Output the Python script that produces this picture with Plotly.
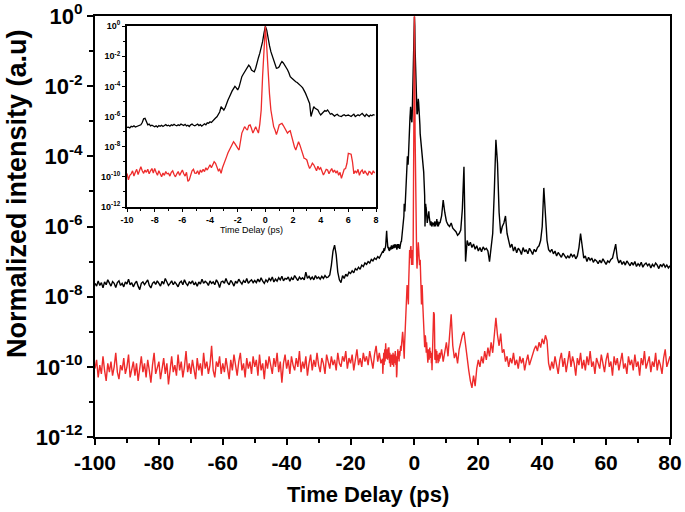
import numpy as np
import plotly.graph_objects as go

t_left = np.linspace(-100.0, -10.5, 180)
t_mid = np.linspace(-10.0, 7.9, 180)
t_right = np.linspace(8.0, 80.0, 145)

# log10(normalized intensity)
black_left = [
    -7.62, -7.70, -7.55, -7.68, -7.60, -7.75, -7.58, -7.66, -7.52, -7.64,
    -7.70, -7.57, -7.62, -7.74, -7.60, -7.55, -7.68, -7.62, -7.72, -7.58,
    -7.64, -7.50, -7.66, -7.60, -7.72, -7.62, -7.56, -7.70, -7.80, -7.62,
    -7.58, -7.66, -7.60, -7.52, -7.68, -7.75, -7.62, -7.58, -7.65, -7.55,
    -7.62, -7.70, -7.56, -7.64, -7.48, -7.60, -7.68, -7.62, -7.55, -7.66,
    -7.58, -7.64, -7.72, -7.60, -7.56, -7.66, -7.52, -7.62, -7.68, -7.58,
    -7.62, -7.55, -7.66, -7.60, -7.70, -7.58, -7.64, -7.50, -7.62, -7.56,
    -7.60, -7.68, -7.55, -7.62, -7.58, -7.66, -7.52, -7.60, -7.74, -7.58,
    -7.56, -7.62, -7.48, -7.60, -7.66, -7.54, -7.60, -7.70, -7.56, -7.62,
    -7.50, -7.58, -7.64, -7.54, -7.60, -7.48, -7.62, -7.56, -7.52, -7.60,
    -7.54, -7.60, -7.50, -7.58, -7.46, -7.56, -7.62, -7.52, -7.58, -7.48,
    -7.54, -7.44, -7.58, -7.50, -7.56, -7.46, -7.52, -7.42, -7.55, -7.48,
    -7.50, -7.44, -7.56, -7.46, -7.52, -7.40, -7.48, -7.54, -7.44, -7.50,
    -7.46, -7.52, -7.30, -7.48, -7.42, -7.50, -7.44, -7.52, -7.40, -7.48,
    -7.44, -7.50, -7.42, -7.48, -7.40, -7.46, -7.44, -7.38, -7.10, -6.70,
    -6.53, -6.80, -7.30, -7.52, -7.60, -7.40, -7.48, -7.36, -7.42, -7.30,
    -7.34, -7.26, -7.32, -7.20, -7.24, -7.16, -7.22, -7.10, -7.14, -7.04,
    -7.08, -7.00, -7.04, -6.94, -6.98, -6.90, -6.94, -6.86, -6.90, -6.80,
]
black_mid = [
    -6.72, -6.70, -6.75, -6.65, -6.68, -6.62, -6.70, -6.66, -6.60, -6.58,
    -6.55, -6.40, -6.15, -6.12, -6.30, -6.55, -6.50, -6.62, -6.58, -6.66,
    -6.68, -6.62, -6.70, -6.60, -6.65, -6.58, -6.66, -6.60, -6.54, -6.62,
    -6.58, -6.64, -6.55, -6.60, -6.52, -6.58, -6.62, -6.55, -6.60, -6.50,
    -6.55, -6.60, -6.52, -6.62, -6.58, -6.66, -6.55, -6.50, -6.58, -6.62,
    -6.56, -6.50, -6.60, -6.54, -6.64, -6.58, -6.48, -6.55, -6.42, -6.45,
    -6.35, -6.40, -6.28, -6.20, -6.10, -6.02, -5.90, -5.70, -5.35, -5.50,
    -5.57, -5.40, -5.10, -4.90, -4.70, -4.46, -4.30, -4.15, -4.00, -4.10,
    -4.24, -4.05, -3.70, -3.36, -3.20, -3.03, -2.90, -2.75, -2.59, -2.70,
    -2.92, -2.98, -3.03, -2.80, -2.36, -2.10, -1.80, -1.45, -1.04, -0.49,
    -0.02, -0.27, -0.93, -1.30, -1.70, -2.00, -2.25, -2.55, -2.80, -2.78,
    -2.70, -2.50, -2.36, -2.45, -2.60, -2.70, -2.90, -3.10, -3.36, -3.45,
    -3.55, -3.62, -3.69, -3.75, -3.82, -3.90, -4.00, -4.10, -4.24, -4.45,
    -4.68, -4.90, -5.13, -6.00, -5.60, -5.35, -5.45, -5.50, -5.57, -5.75,
    -5.90, -5.80, -5.70, -5.60, -5.65, -5.57, -5.70, -5.85, -5.80, -5.92,
    -5.97, -5.90, -5.85, -5.95, -6.00, -6.00, -5.92, -5.88, -5.95, -5.90,
    -5.90, -5.95, -6.00, -5.92, -5.85, -6.00, -5.95, -5.88, -5.95, -5.85,
    -5.79, -5.90, -6.00, -5.85, -5.95, -6.00, -5.90, -5.95, -5.88, -5.90,
]
black_right = [
    -5.90, -5.70, -5.25, -5.60, -5.85, -5.95, -6.00, -5.90, -6.05, -6.10,
    -6.15, -6.25, -6.20, -6.10, -5.50, -4.30, -7.00, -6.40, -6.55, -6.45,
    -6.60, -6.50, -6.65, -6.55, -6.70, -6.60, -6.72, -6.58, -6.66, -6.62,
    -6.70, -7.00, -6.60, -6.20, -5.00, -3.53, -4.20, -5.60, -6.20, -6.00,
    -5.90, -5.70, -6.20, -6.40, -6.60, -6.50, -6.70, -6.58, -6.75, -6.62,
    -6.68, -6.80, -6.60, -6.72, -6.66, -6.78, -6.62, -6.70, -6.80, -6.65,
    -6.72, -6.60, -6.55, -6.40, -6.00, -4.90, -5.60, -6.40, -6.66, -6.72,
    -6.65, -6.78, -6.70, -6.84, -6.74, -6.80, -6.88, -6.76, -6.82, -6.90,
    -6.84, -6.90, -6.78, -6.86, -6.80, -6.92, -6.84, -6.60, -6.20, -6.50,
    -6.90, -6.84, -7.00, -6.88, -6.96, -6.90, -7.02, -6.94, -6.98, -7.06,
    -6.96, -7.04, -6.92, -7.00, -7.08, -6.98, -7.02, -6.94, -6.90, -6.70,
    -6.50, -6.90, -7.04, -6.96, -7.08, -7.00, -7.10, -6.98, -7.06, -7.12,
    -7.02, -7.10, -7.00, -7.14, -7.06, -7.12, -7.02, -7.16, -7.08, -7.04,
    -7.12, -7.06, -7.18, -7.08, -7.14, -7.04, -7.10, -7.20, -7.08, -7.14,
    -7.06, -7.16, -7.10, -7.18, -7.12,
]

red_left = [
    -10.05, -9.80, -10.30, -9.95, -10.20, -9.70, -10.10, -10.40, -9.90, -10.15,
    -9.85, -10.25, -10.00, -9.60, -10.15, -10.35, -9.95, -10.10, -9.75, -10.20,
    -10.00, -9.65, -10.30, -10.05, -9.85, -10.25, -9.90, -10.40, -10.00, -9.70,
    -10.15, -9.90, -10.30, -9.80, -10.10, -10.45, -9.95, -9.60, -10.20, -10.00,
    -9.85, -10.35, -10.05, -9.75, -10.20, -9.90, -10.50, -10.00, -9.70, -10.15,
    -9.95, -10.25, -9.65, -10.10, -9.85, -10.30, -10.00, -9.55, -10.15, -9.90,
    -10.20, -9.80, -10.05, -10.35, -9.75, -10.10, -9.90, -10.25, -9.60, -10.05,
    -9.85, -10.20, -9.95, -9.40, -10.10, -10.30, -9.85, -10.00, -9.70, -10.20,
    -9.90, -10.15, -9.75, -10.05, -10.35, -9.80, -10.10, -9.65, -10.00, -10.25,
    -9.85, -9.60, -10.10, -9.90, -10.30, -9.75, -10.05, -9.85, -10.20, -9.70,
    -10.00, -9.80, -10.25, -9.65, -10.10, -9.90, -10.35, -9.80, -10.05, -9.70,
    -9.95, -10.20, -9.75, -10.00, -9.60, -10.15, -9.85, -10.45, -9.90, -9.65,
    -10.05, -9.80, -10.20, -9.70, -9.95, -10.10, -9.75, -10.00, -9.55, -10.15,
    -9.85, -10.05, -9.70, -10.25, -9.90, -9.65, -10.10, -9.80, -10.00, -9.60,
    -9.95, -10.15, -9.75, -9.90, -10.20, -9.65, -9.85, -10.05, -9.70, -9.95,
    -9.80, -10.10, -9.60, -9.90, -10.00, -9.70, -9.85, -9.55, -10.05, -9.75,
    -9.90, -9.65, -10.10, -9.80, -9.50, -9.95, -9.75, -10.00, -9.60, -9.85,
    -9.70, -9.95, -9.55, -9.80, -10.05, -9.65, -9.40, -9.85, -9.60, -9.90,
]
red_mid = [
    -9.77, -10.20, -9.90, -9.80, -9.60, -9.95, -9.70, -9.50, -9.85, -9.60,
    -9.33, -9.60, -9.77, -9.55, -9.70, -9.50, -9.80, -9.60, -9.45, -9.75,
    -9.44, -9.70, -9.90, -9.60, -9.85, -10.00, -9.75, -9.90, -9.65, -9.80,
    -9.77, -9.95, -9.70, -9.60, -9.85, -10.00, -9.80, -9.65, -9.90, -9.70,
    -9.55, -9.80, -9.95, -9.70, -10.30, -10.20, -9.90, -9.60, -9.50, -9.75,
    -9.77, -9.60, -9.85, -9.55, -9.70, -9.50, -9.65, -9.40, -9.55, -9.35,
    -9.20, -9.40, -9.15, -9.00, -9.10, -9.30, -9.60, -9.50, -9.77, -9.40,
    -9.10, -8.90, -8.66, -8.40, -8.20, -8.00, -7.85, -7.67, -7.80, -8.00,
    -8.10, -8.22, -7.60, -7.10, -6.90, -6.67, -6.80, -6.90, -6.60, -6.56,
    -6.80, -7.10, -6.90, -6.67, -6.90, -7.10, -6.50, -5.57, -3.36, -1.15,
    -0.01, -1.37, -3.36, -4.50, -5.57, -6.20, -6.67, -6.90, -7.20, -6.90,
    -6.56, -6.50, -6.45, -6.60, -6.78, -6.90, -7.10, -7.00, -6.95, -7.30,
    -7.78, -8.00, -8.22, -7.90, -7.67, -7.90, -8.20, -8.50, -8.77, -8.80,
    -8.88, -9.20, -9.44, -9.30, -9.10, -9.20, -9.40, -9.60, -9.30, -9.50,
    -9.40, -9.60, -9.88, -9.70, -9.50, -9.55, -9.80, -9.60, -9.45, -9.70,
    -9.55, -9.75, -9.60, -9.90, -9.70, -10.10, -9.80, -9.50, -9.45, -9.10,
    -8.44, -8.45, -8.50, -9.00, -9.80, -9.60, -9.75, -9.50, -9.90, -9.65,
    -9.55, -9.80, -9.60, -9.75, -9.90, -9.65, -9.70, -9.85, -9.60, -9.75,
]
red_right = [
    -9.75, -9.50, -9.85, -9.60, -9.30, -9.70, -9.20, -8.50, -9.40, -9.75,
    -9.60, -9.90, -9.50, -9.30, -9.10, -9.00, -9.40, -9.80, -10.10, -10.40,
    -10.60, -10.25, -10.55, -10.05, -9.80, -10.00, -9.70, -9.90, -9.55, -9.80,
    -9.45, -9.70, -9.30, -9.60, -9.15, -8.60, -9.10, -9.40, -9.05, -9.60,
    -9.50, -9.85, -9.70, -10.00, -9.75, -9.90, -9.60, -9.95, -9.80, -10.05,
    -9.70, -9.90, -9.75, -10.10, -9.85, -9.65, -9.95, -9.80, -9.60, -9.50,
    -9.40, -9.55, -9.30, -9.45, -9.20, -9.35, -9.10, -9.25, -9.90, -10.10,
    -9.85, -10.05, -9.70, -9.95, -10.20, -9.80, -9.60, -10.00, -9.75, -10.15,
    -9.85, -9.55, -10.00, -9.70, -9.90, -10.25, -9.75, -9.95, -9.60, -10.05,
    -9.80, -10.10, -9.70, -9.95, -9.55, -10.00, -9.85, -10.20, -9.75, -9.90,
    -10.05, -9.65, -9.90, -10.15, -9.80, -9.60, -10.00, -9.85, -10.25, -9.70,
    -9.95, -9.75, -10.10, -9.85, -9.60, -10.05, -9.90, -10.20, -9.70, -9.95,
    -9.80, -10.10, -9.65, -10.00, -9.85, -10.25, -9.75, -9.95, -9.55, -10.05,
    -9.90, -9.70, -10.15, -9.85, -10.00, -9.60, -10.10, -9.80, -9.95, -10.20,
    -9.75, -9.50, -10.00, -9.85, -9.70,
]

main_xticks = list(range(-100, 81, 20))
main_xminor = list(range(-90, 80, 20))
inset_xticks = list(range(-10, 9, 2))
inset_xminor = list(range(-9, 8, 2))
decades = list(range(-12, 1, 2))
y_ticks = [10.0 ** d for d in decades]
y_ticktext = ["10<sup>%d</sup>" % d for d in decades]
y_minor = [10.0 ** d for d in range(-11, 0, 2)]

t = np.concatenate([t_left, t_mid, t_right])
black = 10.0 ** np.array(black_left + black_mid + black_right)
red = 10.0 ** np.array(red_left + red_mid + red_right)

BLACK = "#000000"
RED = "#ee2b2b"
FONT = "Liberation Sans, Arial, sans-serif"

fig = go.Figure()

# main panel
fig.add_trace(go.Scatter(x=t, y=black, mode="lines", line=dict(color=BLACK, width=1.4),
                         xaxis="x", yaxis="y", showlegend=False))
fig.add_trace(go.Scatter(x=t, y=red, mode="lines", line=dict(color=RED, width=1.4),
                         xaxis="x", yaxis="y", showlegend=False))

# inset (zoom around zero delay)
fig.add_trace(go.Scatter(x=t_mid, y=10.0 ** np.array(black_mid), mode="lines",
                         line=dict(color=BLACK, width=1.3), xaxis="x2", yaxis="y2", showlegend=False))
fig.add_trace(go.Scatter(x=t_mid, y=10.0 ** np.array(red_mid), mode="lines",
                         line=dict(color=RED, width=1.3), xaxis="x2", yaxis="y2", showlegend=False))

axis_common = dict(showgrid=False, zeroline=False, showline=True, linecolor="black",
                   linewidth=2, mirror=True, ticks="outside", tickcolor="black", automargin=False)

fig.update_layout(
    width=685, height=512,
    margin=dict(l=95, r=15, t=16, b=75),
    paper_bgcolor="white", plot_bgcolor="white",
    font=dict(family=FONT, color="black"),
    xaxis=dict(**axis_common, range=[-100, 80], tickmode="array", tickvals=main_xticks,
               ticktext=[str(v) for v in main_xticks],
               ticklen=6, tickwidth=1.5,
               tickfont=dict(size=21, weight="bold"),
               minor=dict(tickmode="array", tickvals=main_xminor, ticks="outside",
                          ticklen=4, tickwidth=1.5, tickcolor="black")),
    yaxis=dict(**axis_common, type="log", range=[-12, 0], tickmode="array",
               tickvals=y_ticks, ticktext=y_ticktext, ticklen=6, tickwidth=1.5,
               tickfont=dict(size=22, weight="bold"),
               minor=dict(tickmode="array", tickvals=y_minor, ticks="outside",
                          ticklen=4, tickwidth=1.5, tickcolor="black")),
    xaxis2=dict(**axis_common, domain=[0.0557, 0.4887], anchor="y2", range=[-10, 8],
                tickmode="array", tickvals=inset_xticks, ticktext=[str(v) for v in inset_xticks],
                ticklen=3, tickwidth=1,
                tickfont=dict(size=9, weight="bold"),
                minor=dict(tickmode="array", tickvals=inset_xminor, ticks="outside",
                           ticklen=2, tickwidth=1, tickcolor="black"),
                title=dict(text="Time Delay (ps)", font=dict(size=9), standoff=2)),
    yaxis2=dict(**axis_common, domain=[0.5463, 0.9762], anchor="x2", type="log", range=[-12, 0],
                tickmode="array", tickvals=y_ticks, ticktext=y_ticktext, ticklen=3, tickwidth=1,
                tickfont=dict(size=9, weight="bold"),
                minor=dict(tickmode="array", tickvals=y_minor, ticks="outside",
                           ticklen=2, tickwidth=1, tickcolor="black")),
    annotations=[
        dict(text="Time Delay (ps)", xref="paper", yref="paper",
             x=(368 - 95) / 575, y=-(494 - 437) / 421, xanchor="center", yanchor="middle",
             showarrow=False, font=dict(size=22, weight="bold")),
        dict(text="Normalized intensity (a.u)", xref="paper", yref="paper", textangle=-90,
             x=-(95 - 17) / 575, y=(437 - 194) / 421, xanchor="center", yanchor="middle",
             showarrow=False, font=dict(size=27, weight="bold")),
    ],
)

# drop the browser's default body margin so the figure sits at the window's corner
fig.write_html("out.html", config={"displayModeBar": False},
               post_script="document.body.style.margin='0';")
